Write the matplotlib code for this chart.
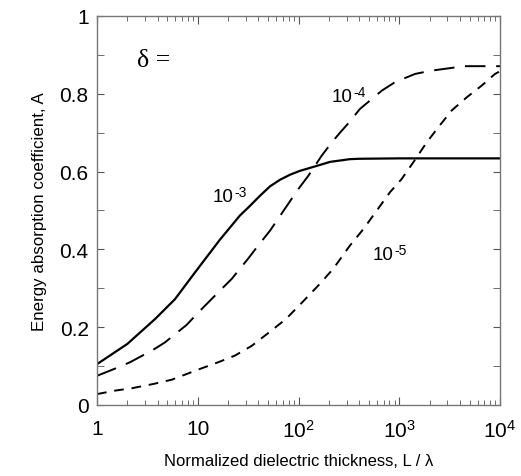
import numpy as np
import matplotlib
matplotlib.use("Agg")
import matplotlib.pyplot as plt
from matplotlib.ticker import FixedLocator, LogLocator, NullFormatter

plt.rcParams['font.family'] = ['Liberation Sans', 'DejaVu Sans']
plt.rcParams['mathtext.fontset'] = 'custom'
plt.rcParams['mathtext.rm'] = 'Liberation Sans'
plt.rcParams['mathtext.it'] = 'Liberation Sans:italic'

# delta = 1e-3 (solid)
x_1e3 = [1, 2.0, 3.77, 5.94, 9.4, 16.6, 26.2, 33.0, 41.5, 52.1, 65.5, 82.4, 103.5,
         140, 206, 324, 407, 1000, 10000]
a_1e3 = [0.105, 0.157, 0.221, 0.272, 0.341, 0.425, 0.487, 0.512, 0.538, 0.562, 0.579,
         0.592, 0.602, 0.612, 0.625, 0.632, 0.633, 0.634, 0.634]

# delta = 1e-4 (long dash)
x_1e4 = [1, 1.63, 2.13, 3.62, 4.73, 7.76, 10.5, 16.6, 21.7, 31.8, 39.8, 52.1, 73.5,
         99.5, 125, 170, 214, 258, 312, 407, 670, 908, 1432, 2018, 3192, 4325, 7079, 10000]
a_1e4 = [0.075, 0.097, 0.11, 0.142, 0.161, 0.206, 0.242, 0.294, 0.324, 0.377, 0.41, 0.448,
         0.505, 0.555, 0.589, 0.641, 0.675, 0.70, 0.724, 0.761, 0.808, 0.83, 0.851, 0.859,
         0.866, 0.871, 0.871, 0.871]

# delta = 1e-5 (short dash)
x_1e5 = [1, 1.51, 2.21, 3.62, 5.51, 10.1, 16.0, 23.4, 34.3, 50.1, 75, 103.5, 157, 221,
         324, 440, 597, 809, 1057, 1380, 1871, 2443, 3311, 4677, 6577, 8913, 10000]
a_1e5 = [0.028, 0.037, 0.043, 0.054, 0.065, 0.091, 0.11, 0.127, 0.152, 0.185, 0.221, 0.258,
         0.307, 0.35, 0.41, 0.452, 0.4995, 0.547, 0.581, 0.624, 0.675, 0.714, 0.757, 0.791,
         0.821, 0.851, 0.858]

x_ticks = [1, 10, 100, 1000, 10000]
x_ticklabels = ['1', '10', r'10$^2$', r'10$^3$', r'10$^4$']
y_ticks = [0, 0.2, 0.4, 0.6, 0.8, 1]
y_ticklabels = ['0', '0.2', '0.4', '0.6', '0.8', '1']

curve_labels = [('10', '-3', 14.2, 0.524), ('10', '-4', 214, 0.782), ('10', '-5', 549, 0.375)]

fig = plt.figure(figsize=(5.21, 4.77), dpi=100)
ax = fig.add_axes([97/521, 1 - 406/477, (500-97)/521, (406-17)/477])

ax.plot(x_1e3, a_1e3, color='black', lw=1.6, ls='-')
ax.plot(x_1e4, a_1e4, color='black', lw=1.4, ls=(0, (10.5, 5.5)))
ax.plot(x_1e5, a_1e5, color='black', lw=1.4, ls=(0, (5, 4)))

ax.set_xscale('log')
ax.set_xlim(1, 10000)
ax.set_ylim(0, 1)
ax.set_xticks(x_ticks)
ax.set_xticklabels(x_ticklabels)
ax.xaxis.set_minor_locator(LogLocator(base=10, subs=np.arange(2, 10)))
ax.xaxis.set_minor_formatter(NullFormatter())
ax.set_yticks(y_ticks)
ax.set_yticklabels(y_ticklabels)
ax.yaxis.set_minor_locator(FixedLocator(np.arange(0.1, 1.0, 0.2)))

ax.tick_params(which='both', direction='in', top=True, right=True, labelsize=15, color='#555555')
ax.tick_params(axis='x', which='major', length=6, pad=10)
ax.tick_params(axis='y', which='major', length=5, pad=6)
ax.tick_params(axis='x', which='minor', length=3.5)
ax.tick_params(axis='y', which='minor', length=5)
for s in ax.spines.values():
    s.set_color('#777777')
    s.set_linewidth(1.0)

ax.set_xlabel('Normalized dielectric thickness, L / \u03bb', fontsize=12, labelpad=9)
ax.set_ylabel('Energy absorption coefficient, A', fontsize=12.2, labelpad=9)

ax.text(2.49, 0.871, '\u03b4 =', fontsize=18.5, family=['Liberation Serif', 'DejaVu Serif'], va='baseline')
for base, sup, xl, yl in curve_labels:
    t = ax.text(xl, yl, base, fontsize=13.5, va='baseline', ha='left')
    ax.annotate(sup, xy=(1, 1), xycoords=t, xytext=(0.3, 2), textcoords='offset points',
                fontsize=10, va='top', ha='left')

fig.savefig('out.png', dpi=100)
